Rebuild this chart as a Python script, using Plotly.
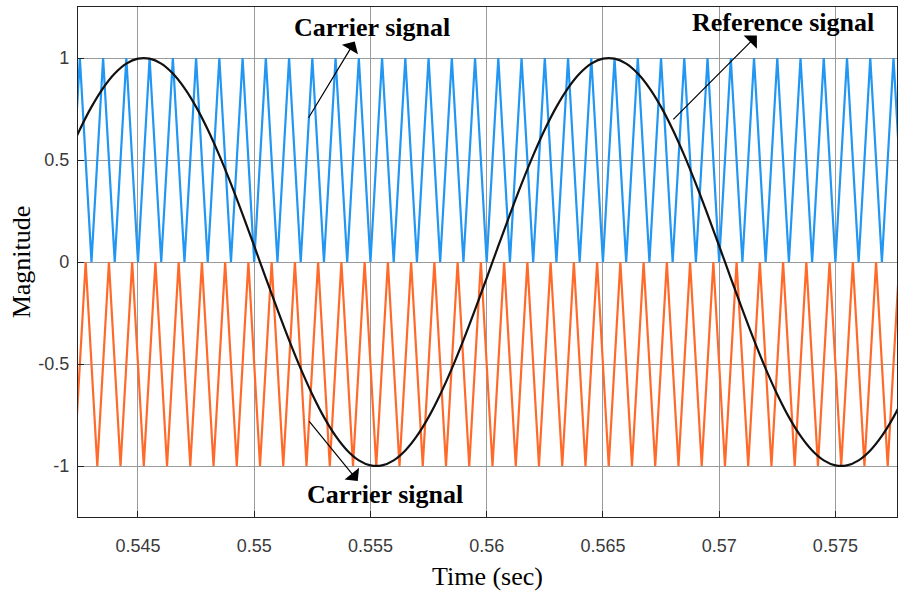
import plotly.graph_objects as go

# ---- data ----
# common sample grid (s)
t_grid = [0.5420, 0.5425, 0.5430, 0.5435, 0.5440, 0.5445, 0.5450, 0.5455, 0.5460, 0.5465,
          0.5470, 0.5475, 0.5480, 0.5485, 0.5490, 0.5495, 0.5500, 0.5505, 0.5510, 0.5515,
          0.5520, 0.5525, 0.5530, 0.5535, 0.5540, 0.5545, 0.5550, 0.5555, 0.5560, 0.5565,
          0.5570, 0.5575, 0.5580, 0.5585, 0.5590, 0.5595, 0.5600, 0.5605, 0.5610, 0.5615,
          0.5620, 0.5625, 0.5630, 0.5635, 0.5640, 0.5645, 0.5650, 0.5655, 0.5660, 0.5665,
          0.5670, 0.5675, 0.5680, 0.5685, 0.5690, 0.5695, 0.5700, 0.5705, 0.5710, 0.5715,
          0.5720, 0.5725, 0.5730, 0.5735, 0.5740, 0.5745, 0.5750, 0.5755, 0.5760, 0.5765,
          0.5770, 0.5775, 0.5780]

# reference signal (black)
reference = [0.5225, 0.6494, 0.7604, 0.8526, 0.9239, 0.9724, 0.9969, 0.9969, 0.9724, 0.9239,
             0.8526, 0.7604, 0.6494, 0.5225, 0.3827, 0.2334, 0.0785, -0.0785, -0.2334, -0.3827,
             -0.5225, -0.6494, -0.7604, -0.8526, -0.9239, -0.9724, -0.9969, -0.9969, -0.9724, -0.9239,
             -0.8526, -0.7604, -0.6494, -0.5225, -0.3827, -0.2334, -0.0785, 0.0785, 0.2334, 0.3827,
             0.5225, 0.6494, 0.7604, 0.8526, 0.9239, 0.9724, 0.9969, 0.9969, 0.9724, 0.9239,
             0.8526, 0.7604, 0.6494, 0.5225, 0.3827, 0.2334, 0.0785, -0.0785, -0.2334, -0.3827,
             -0.5225, -0.6494, -0.7604, -0.8526, -0.9239, -0.9724, -0.9969, -0.9969, -0.9724, -0.9239,
             -0.8526, -0.7604, -0.6494]

# upper carrier (blue) vertices on t_grid
carrier_upper = [0, 1, 0, 1, 0, 1, 0, 1, 0, 1, 0, 1, 0, 1, 0, 1, 0, 1, 0, 1,
                 0, 1, 0, 1, 0, 1, 0, 1, 0, 1, 0, 1, 0, 1, 0, 1, 0, 1, 0, 1,
                 0, 1, 0, 1, 0, 1, 0, 1, 0, 1, 0, 1, 0, 1, 0, 1, 0, 1, 0, 1,
                 0, 1, 0, 1, 0, 1, 0, 1, 0, 1, 0, 1, 0]

# lower carrier (orange) vertex times and values
t_lower = [0.54225, 0.54275, 0.54325, 0.54375, 0.54425, 0.54475, 0.54525, 0.54575, 0.54625, 0.54675,
           0.54725, 0.54775, 0.54825, 0.54875, 0.54925, 0.54975, 0.55025, 0.55075, 0.55125, 0.55175,
           0.55225, 0.55275, 0.55325, 0.55375, 0.55425, 0.55475, 0.55525, 0.55575, 0.55625, 0.55675,
           0.55725, 0.55775, 0.55825, 0.55875, 0.55925, 0.55975, 0.56025, 0.56075, 0.56125, 0.56175,
           0.56225, 0.56275, 0.56325, 0.56375, 0.56425, 0.56475, 0.56525, 0.56575, 0.56625, 0.56675,
           0.56725, 0.56775, 0.56825, 0.56875, 0.56925, 0.56975, 0.57025, 0.57075, 0.57125, 0.57175,
           0.57225, 0.57275, 0.57325, 0.57375, 0.57425, 0.57475, 0.57525, 0.57575, 0.57625, 0.57675,
           0.57725, 0.57775]
carrier_lower = [-1, 0, -1, 0, -1, 0, -1, 0, -1, 0, -1, 0, -1, 0, -1, 0, -1, 0, -1, 0,
                 -1, 0, -1, 0, -1, 0, -1, 0, -1, 0, -1, 0, -1, 0, -1, 0, -1, 0, -1, 0,
                 -1, 0, -1, 0, -1, 0, -1, 0, -1, 0, -1, 0, -1, 0, -1, 0, -1, 0, -1, 0,
                 -1, 0, -1, 0, -1, 0, -1, 0, -1, 0, -1, 0]

x_tickvals = [0.545, 0.55, 0.555, 0.56, 0.565, 0.57, 0.575]
x_ticktext = ["0.545", "0.55", "0.555", "0.56", "0.565", "0.57", "0.575"]
y_tickvals = [-1, -0.5, 0, 0.5, 1]
y_ticktext = ["-1", "-0.5", "0", "0.5", "1"]

BLUE = "#2196F3"
ORANGE = "#FF6A2B"
SERIF = "Liberation Serif, Times New Roman, serif"

fig = go.Figure()
fig.add_trace(go.Scatter(x=t_grid, y=carrier_upper, mode="lines",
                         line=dict(color=BLUE, width=2.2), hoverinfo="skip"))
fig.add_trace(go.Scatter(x=t_lower, y=carrier_lower, mode="lines",
                         line=dict(color=ORANGE, width=2.2), hoverinfo="skip"))
fig.add_trace(go.Scatter(x=t_grid, y=reference, mode="lines", line_shape="spline",
                         line=dict(color="#111111", width=2.2), hoverinfo="skip"))

ann_font = dict(family=SERIF, size=26, color="black")
labels = [
    ("Carrier signal", 0.55506, 1.15),
    ("Reference signal", 0.57274, 1.174),
    ("Carrier signal", 0.55562, -1.142),
]
for txt, xx, yy in labels:
    fig.add_annotation(x=xx, y=yy, text="<b>%s</b>" % txt, showarrow=False, font=ann_font,
                       xanchor="center", yanchor="middle")

arrows = [
    (0.554325, 1.081, 0.55230, 0.700),
    (0.571622, 1.110, 0.567965, 0.692),
    (0.554453, -1.073, 0.552315, -0.774),
]
for hx, hy, tx, ty in arrows:
    fig.add_annotation(x=hx, y=hy, ax=tx, ay=ty, axref="x", ayref="y", xref="x", yref="y",
                       text="", showarrow=True, arrowhead=1, arrowsize=2.6, arrowwidth=1.2,
                       arrowcolor="black", standoff=0)

fig.update_layout(
    width=898, height=598,
    margin=dict(l=78, r=1, t=7, b=81),
    paper_bgcolor="white", plot_bgcolor="white",
    showlegend=False,
    font=dict(family="Liberation Sans, Arial, sans-serif", size=18, color="#3a3a3a"),
)
fig.update_xaxes(
    range=[0.54242, 0.57765], tickvals=x_tickvals, ticktext=x_ticktext,
    showgrid=True, gridcolor="#9a9a9a", gridwidth=1, zeroline=False,
    showline=True, linecolor="#222222", linewidth=1.2, mirror=True,
    ticks="inside", ticklen=6, tickcolor="#222222", automargin=False,
    ticklabelstandoff=12,
    title=dict(text="Time (sec)", font=dict(family=SERIF, size=26, color="black"), standoff=12),
)
fig.update_yaxes(
    range=[-1.25, 1.25], tickvals=y_tickvals, ticktext=y_ticktext,
    showgrid=True, gridcolor="#9a9a9a", gridwidth=1, zeroline=False,
    showline=True, linecolor="#222222", linewidth=1.2, mirror=True,
    ticks="inside", ticklen=6, tickcolor="#222222", automargin=False,
    ticklabelstandoff=4,
    title=dict(text="Magnitude", font=dict(family=SERIF, size=26, color="black"), standoff=0),
)

fig.write_html("out.html", config={"displayModeBar": False},
               post_script="document.body.style.margin='0';document.body.style.overflow='hidden';")
